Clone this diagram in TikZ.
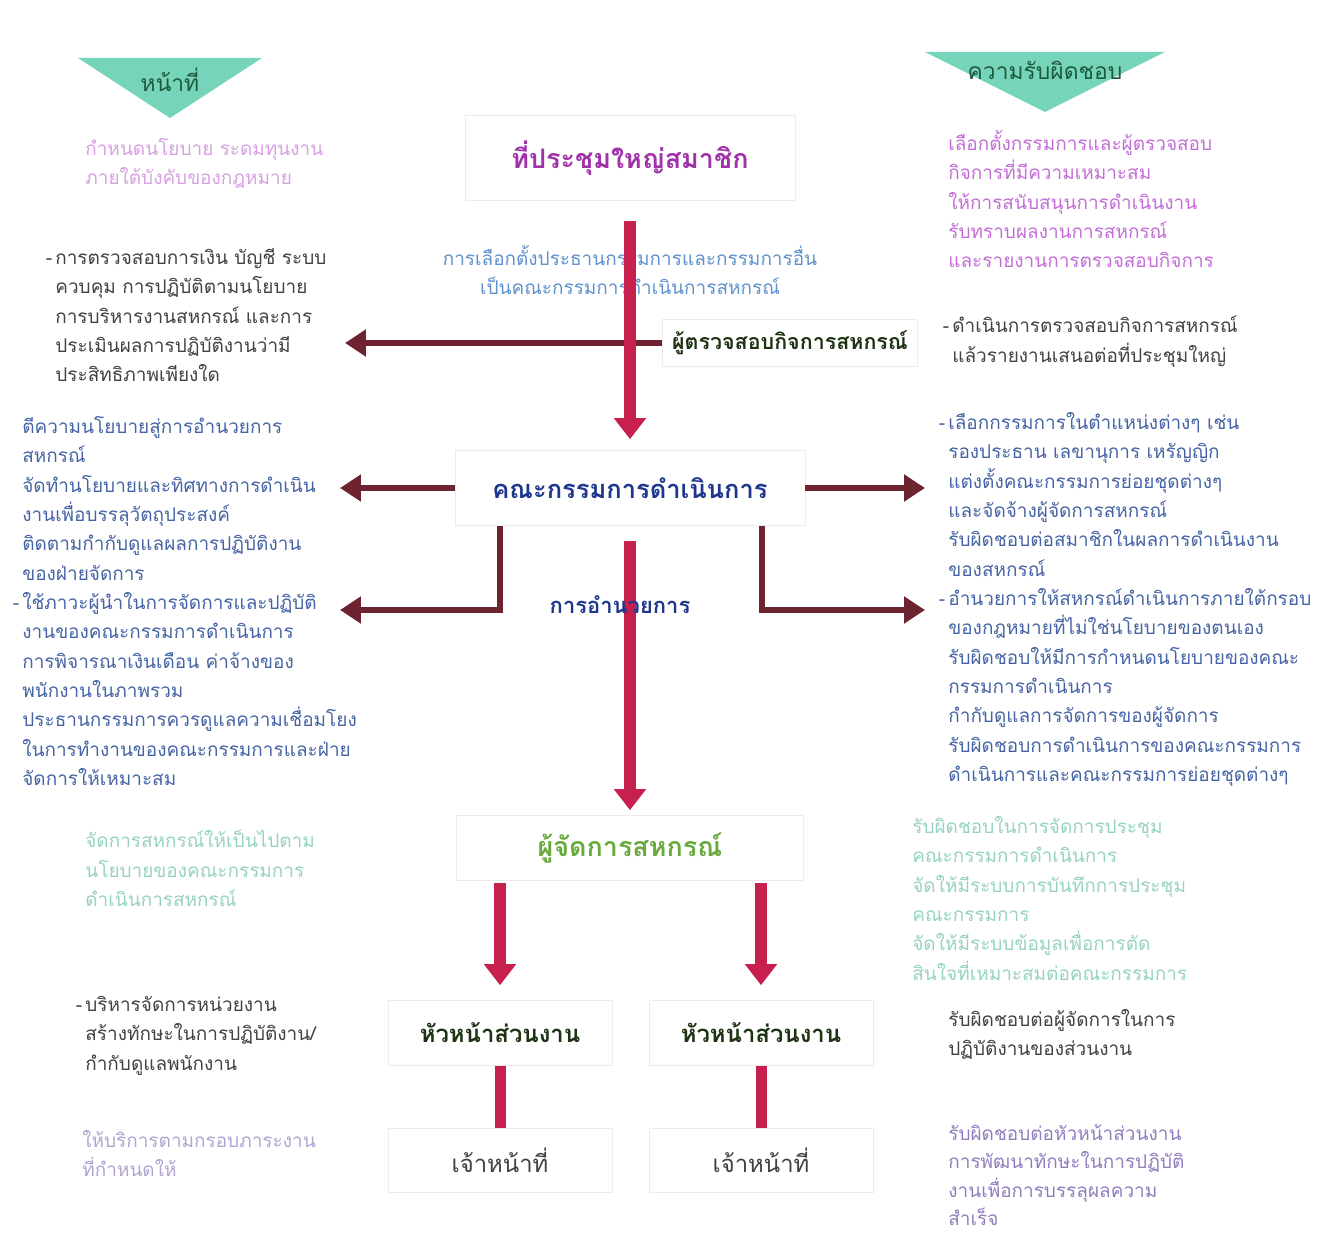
\documentclass[tikz,border=0pt]{standalone}
\usepackage{fontspec}
\newfontfamily\thaifont[Script=Thai]{Loma}
\usetikzlibrary{arrows.meta,positioning}

\definecolor{triteal}{RGB}{118,212,186}
\definecolor{tritext}{RGB}{30,90,60}
\definecolor{redarr}{RGB}{200,32,78}
\definecolor{brownarr}{RGB}{110,36,48}
\definecolor{meetpurple}{RGB}{160,50,170}
\definecolor{softpurple}{RGB}{195,110,215}
\definecolor{palepurple}{RGB}{215,160,225}
\definecolor{bodyblue}{RGB}{70,100,165}
\definecolor{lightblue}{RGB}{95,145,205}
\definecolor{boardblue}{RGB}{30,55,140}
\definecolor{bodygray}{RGB}{65,65,70}
\definecolor{palegreen}{RGB}{150,210,195}
\definecolor{mgrgreen}{RGB}{105,170,60}
\definecolor{headgreen}{RGB}{30,50,20}
\definecolor{staffpurple}{RGB}{145,125,190}

\tikzset{
  box/.style={draw=gray!15,fill=white,inner sep=0pt},
  title/.style={font=\thaifont\bfseries\fontsize{15.3}{18}\selectfont},
  body/.style={anchor=north west,align=left,inner sep=0pt,
    font=\thaifont\fontsize{10.8}{16.7}\selectfont},
  redarrow/.style={draw=redarr,line width=0.24cm,
    -{Triangle[width=0.62cm,length=0.42cm]}},
  redline/.style={draw=redarr,line width=0.22cm},
  brownarrow/.style={draw=brownarr,line width=0.12cm,
    -{Triangle[width=0.52cm,length=0.42cm]}}
}

\begin{document}
\begin{tikzpicture}[x=0.02cm,y=-0.02cm]
      \useasboundingbox (0,0) rectangle (1329,1236);

      % column heads: two teal triangles
      \fill[triteal] (78,58) -- (262,58) -- (170,118) -- cycle;
      \fill[triteal] (925,52) -- (1165,52) -- (1045,112) -- cycle;
      \node[font=\thaifont\fontsize{13}{15}\selectfont,text=tritext] (dutyhead) at (170,80) {หน้าที่};
      \node[font=\thaifont\fontsize{13}{15}\selectfont,text=tritext] (resphead) at (1045,70) {ความรับผิดชอบ};

      % the chain of units in the middle
      \node[box,minimum width=6.6cm,minimum height=1.7cm,title,text=meetpurple] (meeting) at (630,158) {ที่ประชุมใหญ่สมาชิก};
      \node[box,minimum width=5.1cm,minimum height=0.95cm,font=\thaifont\bfseries\fontsize{12.2}{15}\selectfont,text=headgreen] (auditor) at (790,343) {ผู้ตรวจสอบกิจการสหกรณ์};
      \node[box,minimum width=7cm,minimum height=1.5cm,title,font=\thaifont\bfseries\fontsize{14.5}{18}\selectfont,text=boardblue] (board) at (630,488) {คณะกรรมการดำเนินการ};
      \node[box,minimum width=6.94cm,minimum height=1.3cm,title,text=mgrgreen] (manager) at (630,848) {ผู้จัดการสหกรณ์};
      \node[box,minimum width=4.48cm,minimum height=1.3cm,font=\thaifont\bfseries\fontsize{13.6}{16}\selectfont,text=headgreen] (headL) at (500,1033) {หัวหน้าส่วนงาน};
      \node[box,minimum width=4.48cm,minimum height=1.3cm,font=\thaifont\bfseries\fontsize{13.6}{16}\selectfont,text=headgreen] (headR) at (761,1033) {หัวหน้าส่วนงาน};
      \node[box,minimum width=4.48cm,minimum height=1.28cm,font=\thaifont\fontsize{13.6}{16}\selectfont,text=bodygray] (staffL) at (500,1160) {เจ้าหน้าที่};
      \node[box,minimum width=4.48cm,minimum height=1.28cm,font=\thaifont\fontsize{13.6}{16}\selectfont,text=bodygray] (staffR) at (761,1160) {เจ้าหน้าที่};

      % free ends of the side arrows
      \coordinate (auditend) at (345,343);
      \coordinate (boardL) at (340,488);
      \coordinate (boardR) at (925,488);
      \coordinate (kneeL) at (500,610);
      \coordinate (kneeR) at (762,610);
      \coordinate (elbowL) at (340,610);
      \coordinate (elbowR) at (925,610);

      % label under the meeting box
      \node[align=center,inner sep=0pt,font=\thaifont\fontsize{10.8}{16.7}\selectfont,text=lightblue] (elect) at (630,270)
        {การเลือกตั้งประธานกรรมการและกรรมการอื่น\\เป็นคณะกรรมการดำเนินการสหกรณ์};

      % brown arrows out to the text columns
      \draw[brownarrow] (auditor.west) -- (auditend);
      \draw[brownarrow] (board.west) -- (boardL);
      \draw[brownarrow] (board.east) -- (boardR);
      \draw[brownarrow] (board.south -| kneeL) -- (kneeL) -- (elbowL);
      \draw[brownarrow] (board.south -| kneeR) -- (kneeR) -- (elbowR);

      % red arrows down the chain
      \draw[redarrow,shorten <=0.4cm,shorten >=0.22cm] (meeting) -- (board);
      \draw[redarrow,shorten <=0.3cm,shorten >=0.1cm] (board) -- (manager);
      \draw[redarrow,shorten <=0.04cm,shorten >=0.3cm] (manager.south -| headL) -- (headL.north);
      \draw[redarrow,shorten <=0.04cm,shorten >=0.3cm] (manager.south -| headR) -- (headR.north);
      \draw[redline] (headL.south) -- (staffL.north);
      \draw[redline] (headR.south) -- (staffR.north);

      \node[font=\thaifont\bfseries\fontsize{12.5}{15}\selectfont,text=boardblue] (direct) at (620,605) {การอำนวยการ};

      % left column: duties
      \node[body,text=palepurple] (duty1) at (85,138) {กำหนดนโยบาย ระดมทุนงาน\\ภายใต้บังคับของกฎหมาย};
      \node[body,text=bodygray] (duty2) at (55,248) {\llap{-\,}การตรวจสอบการเงิน บัญชี ระบบ\\ควบคุม การปฏิบัติตามนโยบาย\\การบริหารงานสหกรณ์ และการ\\ประเมินผลการปฏิบัติงานว่ามี\\ประสิทธิภาพเพียงใด};
      \node[body,text=bodyblue] (duty3) at (22,416) {ตีความนโยบายสู่การอำนวยการ\\สหกรณ์\\จัดทำนโยบายและทิศทางการดำเนิน\\งานเพื่อบรรลุวัตถุประสงค์\\ติดตามกำกับดูแลผลการปฏิบัติงาน\\ของฝ่ายจัดการ\\\llap{-\,}ใช้ภาวะผู้นำในการจัดการและปฏิบัติ\\งานของคณะกรรมการดำเนินการ\\การพิจารณาเงินเดือน ค่าจ้างของ\\พนักงานในภาพรวม\\ประธานกรรมการควรดูแลความเชื่อมโยง\\ในการทำงานของคณะกรรมการและฝ่าย\\จัดการให้เหมาะสม};
      \node[body,text=palegreen] (duty4) at (85,830) {จัดการสหกรณ์ให้เป็นไปตาม\\นโยบายของคณะกรรมการ\\ดำเนินการสหกรณ์};
      \node[body,text=bodygray] (duty5) at (85,996) {\llap{-\,}บริหารจัดการหน่วยงาน\\สร้างทักษะในการปฏิบัติงาน/\\กำกับดูแลพนักงาน};
      \node[body,text=staffpurple!70] (duty6) at (82,1130) {ให้บริการตามกรอบภาระงาน\\ที่กำหนดให้};

      % right column: responsibilities
      \node[body,text=softpurple] (resp1) at (948,130) {เลือกตั้งกรรมการและผู้ตรวจสอบ\\กิจการที่มีความเหมาะสม\\ให้การสนับสนุนการดำเนินงาน\\รับทราบผลงานการสหกรณ์\\และรายงานการตรวจสอบกิจการ};
      \node[body,text=bodygray] (resp2) at (952,316) {\llap{-\,}ดำเนินการตรวจสอบกิจการสหกรณ์\\แล้วรายงานเสนอต่อที่ประชุมใหญ่};
      \node[body,text=bodyblue] (resp3) at (948,412) {\llap{-\,}เลือกกรรมการในตำแหน่งต่างๆ เช่น\\รองประธาน เลขานุการ เหรัญญิก\\แต่งตั้งคณะกรรมการย่อยชุดต่างๆ\\และจัดจ้างผู้จัดการสหกรณ์\\รับผิดชอบต่อสมาชิกในผลการดำเนินงาน\\ของสหกรณ์\\\llap{-\,}อำนวยการให้สหกรณ์ดำเนินการภายใต้กรอบ\\ของกฎหมายที่ไม่ใช่นโยบายของตนเอง\\รับผิดชอบให้มีการกำหนดนโยบายของคณะ\\กรรมการดำเนินการ\\กำกับดูแลการจัดการของผู้จัดการ\\รับผิดชอบการดำเนินการของคณะกรรมการ\\ดำเนินการและคณะกรรมการย่อยชุดต่างๆ};
      \node[body,text=palegreen] (resp4) at (912,816) {รับผิดชอบในการจัดการประชุม\\คณะกรรมการดำเนินการ\\จัดให้มีระบบการบันทึกการประชุม\\คณะกรรมการ\\จัดให้มีระบบข้อมูลเพื่อการตัด\\สินใจที่เหมาะสมต่อคณะกรรมการ};
      \node[body,text=bodygray] (resp5) at (948,1009) {รับผิดชอบต่อผู้จัดการในการ\\ปฏิบัติงานของส่วนงาน};
      \node[body,text=staffpurple,font=\thaifont\fontsize{10.8}{16.2}\selectfont] (resp6) at (948,1124) {รับผิดชอบต่อหัวหน้าส่วนงาน\\การพัฒนาทักษะในการปฏิบัติ\\งานเพื่อการบรรลุผลความ\\สำเร็จ};
\end{tikzpicture}
\end{document}
